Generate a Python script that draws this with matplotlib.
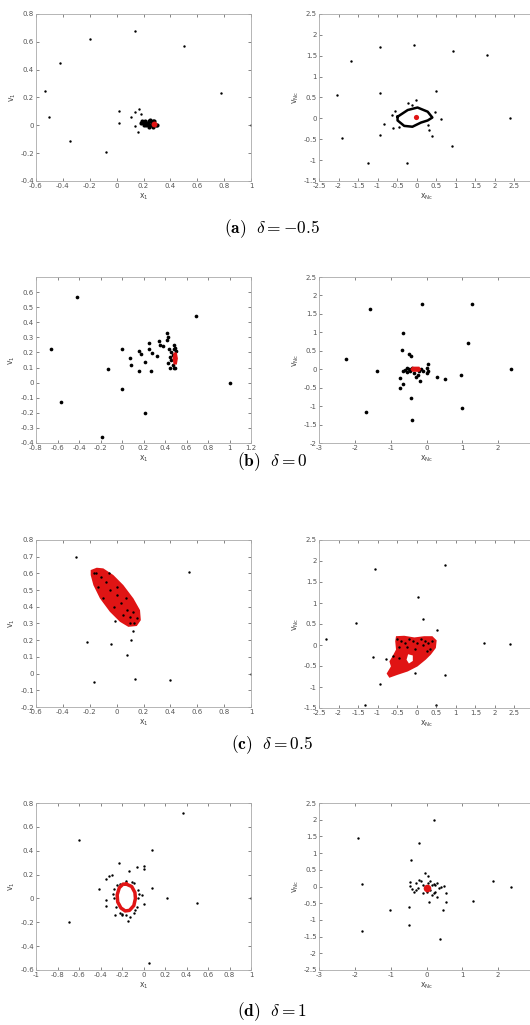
import matplotlib.pyplot as plt
from matplotlib.ticker import FuncFormatter

plt.rcParams['font.family'] = 'DejaVu Sans'
plt.rcParams['mathtext.fontset'] = 'cm'
plt.rcParams['axes.unicode_minus'] = False

RED = '#e01414'

# ---- (a) delta = -0.5 ----
a1_pts = [(0.14, 0.68), (-0.2, 0.62), (0.5, 0.57), (-0.42, 0.45), (-0.53, 0.25),
          (0.78, 0.23), (-0.5, 0.06), (0.02, 0.1), (0.17, 0.12), (0.14, 0.095),
          (0.18, 0.08), (0.107, 0.06), (0.015, 0.02), (0.14, -0.005), (0.16, -0.05),
          (-0.35, -0.11), (-0.08, -0.19), (1.0, 0.0)]
a1_cluster = [(0.19, 0.03), (0.2, 0.02), (0.21, 0.03), (0.22, 0.02), (0.23, 0.01),
              (0.24, 0.03), (0.25, 0.0), (0.26, 0.02), (0.27, -0.01), (0.28, 0.01),
              (0.22, 0.0), (0.24, -0.01), (0.26, 0.0), (0.28, 0.03), (0.29, 0.0),
              (0.3, 0.0), (0.18, 0.02), (0.2, 0.0), (0.25, 0.04), (0.27, 0.03)]
a1_red = [(0.278, 0.01)]

a2_pts = [(-0.08, 1.75), (-0.95, 1.7), (0.92, 1.62), (1.8, 1.52), (-1.67, 1.38),
          (-0.95, 0.6), (0.5, 0.65), (-2.05, 0.55), (-0.01, 0.43), (-0.22, 0.37),
          (-0.12, 0.31), (-0.56, 0.18), (0.46, 0.15), (-0.63, 0.08), (0.62, -0.01),
          (2.38, 0.0), (-0.83, -0.14), (-0.61, -0.23), (-0.46, -0.21), (0.28, -0.16),
          (0.31, -0.29), (0.39, -0.42), (-0.95, -0.39), (-1.9, -0.46), (0.91, -0.66),
          (-1.24, -1.06), (-0.26, -1.07)]
a2_loop = [(-0.49, 0.04), (-0.23, 0.2), (0.02, 0.26), (0.28, 0.16), (0.4, 0.02),
           (0.28, -0.05), (0.11, -0.1), (-0.11, -0.2), (-0.32, -0.18), (-0.49, -0.05),
           (-0.49, 0.04)]
a2_red = [(-0.02, 0.03)]

# ---- (b) delta = 0 ----
b1_pts = [(-0.42, 0.57), (0.69, 0.44), (-0.66, 0.22), (0.0, 0.22), (-0.13, 0.09),
          (0.0, -0.04), (-0.57, -0.13), (0.21, -0.2), (-0.19, -0.36), (1.0, 0.0),
          (0.07, 0.16), (0.08, 0.12), (0.16, 0.21), (0.18, 0.19), (0.16, 0.08),
          (0.21, 0.14), (0.25, 0.26), (0.25, 0.225), (0.28, 0.195), (0.33, 0.176),
          (0.34, 0.275), (0.355, 0.25), (0.385, 0.245), (0.27, 0.08), (0.42, 0.33),
          (0.43, 0.3), (0.42, 0.28), (0.44, 0.22), (0.43, 0.13), (0.45, 0.1),
          (0.48, 0.1), (0.48, 0.25), (0.49, 0.23), (0.46, 0.2), (0.47, 0.18),
          (0.46, 0.15), (0.47, 0.12), (0.48, 0.22), (0.5, 0.21), (0.49, 0.1),
          (0.45, 0.17)]
b1_red = [(0.48, 0.2), (0.51, 0.2), (0.52, 0.16), (0.51, 0.12), (0.48, 0.12), (0.47, 0.16)]

b2_pts = [(-0.12, 1.76), (1.26, 1.77), (-1.58, 1.63), (-0.65, 0.97), (1.15, 0.7),
          (-0.68, 0.51), (-0.49, 0.4), (-0.42, 0.35), (-2.26, 0.28), (0.04, 0.15),
          (-1.39, -0.05), (2.37, 0.0), (-0.73, -0.25), (-0.65, -0.39), (-0.73, -0.5),
          (-0.17, -0.33), (0.28, -0.22), (0.51, -0.27), (0.97, -0.17), (-0.44, -0.79),
          (1.0, -1.05), (-1.69, -1.16), (-0.41, -1.37),
          (-0.6, -0.02), (-0.55, -0.08), (-0.5, 0.0), (-0.45, -0.05), (-0.4, 0.02),
          (-0.35, -0.1), (-0.3, -0.2), (-0.2, -0.05), (-0.15, 0.0), (-0.1, -0.05),
          (0.0, 0.02), (0.05, -0.05), (-0.55, 0.02), (-0.25, -0.15), (0.0, -0.1),
          (-0.65, -0.05)]
b2_red = [(-0.45, 0.0), (-0.4, 0.07), (-0.2, 0.07), (-0.15, 0.0), (-0.2, -0.07), (-0.4, -0.07)]

# ---- (c) delta = 0.5 ----
c1_pts = [(-0.3, 0.7), (0.54, 0.61), (-0.01, 0.315), (0.12, 0.255), (-0.22, 0.19),
          (-0.04, 0.18), (0.11, 0.2), (0.08, 0.11), (-0.17, -0.05), (0.14, -0.03),
          (0.4, -0.04), (1.0, 0.0)]
c1_inner = [(-0.17, 0.6), (-0.12, 0.58), (-0.08, 0.55), (-0.14, 0.52), (-0.05, 0.5),
            (0.0, 0.47), (0.03, 0.42), (0.08, 0.38), (0.1, 0.34), (0.12, 0.37),
            (0.15, 0.33), (0.05, 0.35), (-0.02, 0.4), (0.07, 0.45), (-0.1, 0.45),
            (0.13, 0.3), (0.1, 0.3), (-0.15, 0.6), (0.0, 0.52), (-0.06, 0.6)]
c1_red = [(-0.193, 0.62), (-0.148, 0.634), (-0.099, 0.63), (-0.024, 0.59), (0.05, 0.53),
          (0.125, 0.45), (0.174, 0.38), (0.18, 0.32), (0.15, 0.285), (0.087, 0.28),
          (0.025, 0.31), (-0.05, 0.37), (-0.124, 0.45), (-0.173, 0.53), (-0.193, 0.59)]

c2_pts = [(0.72, 1.9), (-1.08, 1.8), (0.02, 1.15), (0.17, 0.62), (-1.55, 0.53),
          (0.53, 0.35), (-2.33, 0.14), (1.73, 0.05), (2.38, 0.02), (-1.11, -0.28),
          (-0.79, -0.34), (-0.93, -0.93), (-0.04, -0.67), (0.72, -0.72), (-1.32, -1.43),
          (0.5, -1.42)]
c2_inner = [(-0.5, 0.15), (-0.4, 0.1), (-0.3, 0.05), (-0.2, 0.15), (-0.1, 0.1),
            (0.0, 0.05), (0.1, 0.15), (0.2, 0.1), (0.3, 0.05), (0.35, -0.1),
            (0.25, -0.15), (-0.45, -0.05), (-0.6, -0.25), (-0.45, -0.3), (0.15, 0.0),
            (-0.05, -0.1), (0.4, 0.1), (-0.25, -0.05)]
c2_red = [(-0.53, 0.21), (-0.32, 0.22), (-0.06, 0.18), (0.19, 0.21), (0.4, 0.21),
          (0.51, 0.11), (0.49, -0.07), (0.36, -0.23), (0.23, -0.35), (0.02, -0.51),
          (-0.23, -0.63), (-0.49, -0.71), (-0.7, -0.78), (-0.77, -0.68), (-0.66, -0.51),
          (-0.7, -0.39), (-0.62, -0.27), (-0.53, -0.11), (-0.55, 0.09)]
c2_hole = [(-0.22, -0.22), (-0.1, -0.25), (-0.1, -0.38), (-0.2, -0.44), (-0.26, -0.35)]

# ---- (d) delta = 1 ----
d1_pts = [(0.37, 0.72), (-0.6, 0.49), (0.08, 0.41), (-0.23, 0.3), (-0.064, 0.263),
          (0.0, 0.275), (0.005, 0.244), (-0.138, 0.23), (-0.29, 0.2), (-0.318, 0.19),
          (-0.35, 0.165), (-0.41, 0.08), (0.08, 0.09), (-0.346, -0.01), (-0.35, -0.06),
          (0.22, 0.0), (0.5, -0.04), (1.0, 0.0), (-0.265, -0.14), (-0.2, -0.137),
          (-0.13, -0.157), (-0.144, -0.19), (-0.69, -0.2), (0.05, -0.54), (0.0, -0.045),
          (-0.017, 0.03),
          (-0.27, 0.08), (-0.27, 0.0), (-0.26, -0.07), (-0.22, -0.12), (-0.16, -0.14),
          (-0.09, -0.12), (-0.06, -0.07), (-0.05, 0.0), (-0.05, 0.07), (-0.09, 0.13),
          (-0.16, 0.15), (-0.22, 0.12), (-0.11, 0.14), (-0.25, 0.11), (-0.04, 0.04),
          (-0.08, -0.1), (-0.28, 0.04), (-0.2, -0.13)]
d1_ring = [(-0.16, 0.12), (-0.11, 0.1), (-0.08, 0.05), (-0.075, 0.0), (-0.09, -0.06),
           (-0.13, -0.1), (-0.17, -0.105), (-0.21, -0.08), (-0.24, -0.03), (-0.245, 0.03),
           (-0.225, 0.09), (-0.19, 0.12), (-0.16, 0.12)]

d2_pts = [(0.21, 1.98), (-1.92, 1.44), (-0.2, 1.31), (-0.44, 0.78), (-0.05, 0.4),
          (0.05, 0.3), (-1.8, 0.07), (1.86, 0.17), (2.37, 0.0), (1.29, -0.43),
          (0.07, -0.47), (0.54, -0.47), (-0.5, -0.6), (-1.01, -0.71), (0.47, -0.71),
          (-0.48, -1.16), (-1.79, -1.33), (0.37, -1.58),
          (-0.45, 0.12), (-0.45, 0.02), (-0.4, -0.08), (-0.35, -0.15), (-0.3, 0.1),
          (-0.25, -0.05), (-0.2, 0.18), (-0.15, 0.15), (-0.1, -0.2), (-0.1, 0.05),
          (0.0, -0.15), (0.05, 0.1), (0.1, -0.1), (0.15, 0.05), (0.2, -0.2),
          (0.25, 0.05), (0.3, -0.3), (0.3, 0.1), (0.35, -0.05), (0.4, 0.0),
          (0.5, 0.02), (0.55, -0.18), (0.25, -0.15), (-0.3, -0.1), (0.1, 0.15),
          (-0.05, 0.0), (0.2, 0.08), (0.15, -0.25)]
d2_red = [(0.02, -0.05)]

captions = [r'$\mathbf{(a)}\ \ \delta = -0.5$', r'$\mathbf{(b)}\ \ \delta = 0$',
            r'$\mathbf{(c)}\ \ \delta = 0.5$', r'$\mathbf{(d)}\ \ \delta = 1$']


def xs(p):
    return [q[0] for q in p]


def ys(p):
    return [q[1] for q in p]


def fmt(v, pos):
    return '%g' % (round(v, 2) + 0.0)


def setup(ax, xlim, ylim, xticks, yticks, right):
    ax.set_xlim(xlim)
    ax.set_ylim(ylim)
    ax.set_xticks(xticks)
    ax.set_yticks(yticks)
    ax.xaxis.set_major_formatter(FuncFormatter(fmt))
    ax.yaxis.set_major_formatter(FuncFormatter(fmt))
    ax.tick_params(direction='in', length=2, width=0.5, top=True, right=True,
                   labelsize=5, colors='#555555', pad=1.5)
    for s in ax.spines.values():
        s.set_color('#aaaaaa')
        s.set_linewidth(0.6)
    if right:
        xl, yl = r'x$_{\rm Nc}$', r'v$_{\rm Nc}$'
    else:
        xl, yl = r'x$_1$', r'v$_1$'
    ax.set_xlabel(xl, fontsize=5.5, color='#444444', labelpad=2, math_fontfamily='dejavusans')
    ax.set_ylabel(yl, fontsize=5.5, color='#444444', labelpad=2, math_fontfamily='dejavusans')


def make_ax(fig, x0, y_top, y_bot):
    W, H = 530.0, 1025.0
    return fig.add_axes([x0 / W, 1 - y_bot / H, 215 / W, (y_bot - y_top) / H])


fig = plt.figure(figsize=(5.3, 10.25), dpi=100)

# row a
ax = make_ax(fig, 36, 14, 181)
ax.scatter(xs(a1_pts), ys(a1_pts), s=3, c='k', lw=0)
ax.scatter(xs(a1_cluster), ys(a1_cluster), s=9, c='k', lw=0)
ax.scatter(xs(a1_red), ys(a1_red), s=18, c=RED, lw=0, zorder=3)
setup(ax, (-0.6, 1), (-0.4, 0.8), [-0.6, -0.4, -0.2, 0, 0.2, 0.4, 0.6, 0.8, 1],
      [-0.4, -0.2, 0, 0.2, 0.4, 0.6, 0.8], False)

ax = make_ax(fig, 319, 14, 181)
ax.scatter(xs(a2_pts), ys(a2_pts), s=3, c='k', lw=0)
ax.plot(xs(a2_loop), ys(a2_loop), color='k', lw=1.8)
ax.scatter(xs(a2_red), ys(a2_red), s=14, c=RED, lw=0, zorder=3)
setup(ax, (-2.5, 3), (-1.5, 2.5), [-2.5, -2, -1.5, -1, -0.5, 0, 0.5, 1, 1.5, 2, 2.5],
      [-1.5, -1, -0.5, 0, 0.5, 1, 1.5, 2, 2.5], True)

# row b
ax = make_ax(fig, 36, 277, 443)
ax.scatter(xs(b1_pts), ys(b1_pts), s=7, c='k', lw=0)
ax.fill(xs(b1_red), ys(b1_red), color=RED, lw=0, zorder=3)
setup(ax, (-0.8, 1.2), (-0.4, 0.7), [-0.8, -0.6, -0.4, -0.2, 0, 0.2, 0.4, 0.6, 0.8, 1, 1.2],
      [-0.4, -0.3, -0.2, -0.1, 0, 0.1, 0.2, 0.3, 0.4, 0.5, 0.6], False)

ax = make_ax(fig, 319, 277, 443)
ax.scatter(xs(b2_pts), ys(b2_pts), s=7, c='k', lw=0)
ax.fill(xs(b2_red), ys(b2_red), color=RED, lw=0, zorder=3)
setup(ax, (-3, 3), (-2, 2.5), [-3, -2, -1, 0, 1, 2],
      [-2, -1.5, -1, -0.5, 0, 0.5, 1, 1.5, 2, 2.5], True)

# row c
ax = make_ax(fig, 36, 540, 707)
ax.fill(xs(c1_red), ys(c1_red), color=RED, lw=0)
ax.scatter(xs(c1_inner), ys(c1_inner), s=3, c='k', lw=0, zorder=3)
ax.scatter(xs(c1_pts), ys(c1_pts), s=3, c='k', lw=0)
setup(ax, (-0.6, 1), (-0.2, 0.8), [-0.6, -0.4, -0.2, 0, 0.2, 0.4, 0.6, 0.8, 1],
      [-0.2, -0.1, 0, 0.1, 0.2, 0.3, 0.4, 0.5, 0.6, 0.7, 0.8], False)

ax = make_ax(fig, 319, 540, 708)
ax.fill(xs(c2_red), ys(c2_red), color=RED, lw=0)
ax.fill(xs(c2_hole), ys(c2_hole), color='white', lw=0)
ax.scatter(xs(c2_inner), ys(c2_inner), s=3, c='k', lw=0, zorder=3)
ax.scatter(xs(c2_pts), ys(c2_pts), s=3, c='k', lw=0)
setup(ax, (-2.5, 3), (-1.5, 2.5), [-2.5, -2, -1.5, -1, -0.5, 0, 0.5, 1, 1.5, 2, 2.5],
      [-1.5, -1, -0.5, 0, 0.5, 1, 1.5, 2, 2.5], True)

# row d
ax = make_ax(fig, 36, 803, 970)
ax.scatter(xs(d1_pts), ys(d1_pts), s=3, c='k', lw=0)
ax.plot(xs(d1_ring), ys(d1_ring), color=RED, lw=2.5, zorder=3)
setup(ax, (-1, 1), (-0.6, 0.8), [-1, -0.8, -0.6, -0.4, -0.2, 0, 0.2, 0.4, 0.6, 0.8, 1],
      [-0.6, -0.4, -0.2, 0, 0.2, 0.4, 0.6, 0.8], False)

ax = make_ax(fig, 319, 803, 970)
ax.scatter(xs(d2_pts), ys(d2_pts), s=3, c='k', lw=0)
ax.scatter(xs(d2_red), ys(d2_red), s=30, c=RED, lw=0, zorder=3)
setup(ax, (-3, 3), (-2.5, 2.5), [-3, -2, -1, 0, 1, 2],
      [-2.5, -2, -1.5, -1, -0.5, 0, 0.5, 1, 1.5, 2, 2.5], True)

# captions
for cap, yc in zip(captions, [229, 462, 745, 1012]):
    fig.text(272 / 530, 1 - yc / 1025, cap, fontsize=12.5, ha='center', va='center')

fig.savefig('out.png', dpi=100)
